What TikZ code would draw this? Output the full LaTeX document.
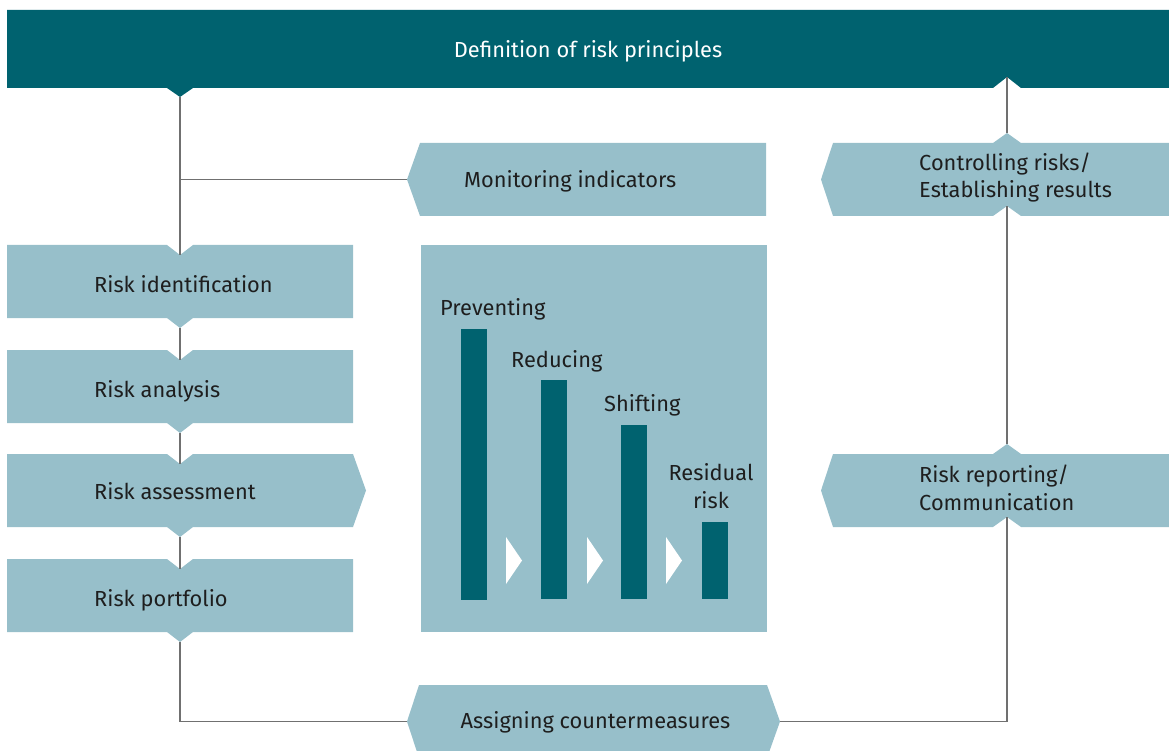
\documentclass[tikz,border=0pt]{standalone}
\usepackage{fontspec}
\setmainfont{Fira Sans}
\definecolor{teal}{HTML}{00626F}
\definecolor{pale}{HTML}{97BFCA}
\definecolor{ink}{HTML}{1E1E1E}
\definecolor{wire}{HTML}{707070}
\tikzset{
  lbl/.style={font=\fontsize{21.8}{27.5}\selectfont, text=ink, inner sep=0pt, align=left},
  link/.style={draw=wire, line width=1.3pt},
  panel/.style={fill=pale},
  bar/.style={fill=teal},
}
% stage box on the left: notch at the top, tab at the bottom
\newcommand{\stagebox}[2]{%
  \fill[panel] (7,#1) -- (167,#1) -- (180,#1+10) -- (193,#1) -- (353,#1) -- (353,#2)
    -- (193,#2) -- (180,#2+10) -- (167,#2) -- (7,#2) -- cycle;}
\begin{document}
\begin{tikzpicture}[x=1pt,y=-1pt]
\useasboundingbox (0,0) rectangle (1169,751);

% header band
\fill[bar] (7,10) -- (1169,10) -- (1169,88) -- (1021,88) -- (1007,77) -- (993,88)
  -- (193,88) -- (180,97) -- (167,88) -- (7,88) -- cycle;
\node[lbl, text=white, anchor=base] (principles) at (588,58) {Definition of risk principles};
\coordinate (hdrOut) at (180,97);
\coordinate (hdrIn) at (1007,77);

% left process stages
\stagebox{245}{318}
\stagebox{350}{423}
\stagebox{559}{632}
\fill[panel] (7,454) -- (167,454) -- (180,464) -- (193,454) -- (353,454) -- (366,490.5)
  -- (353,527) -- (193,527) -- (180,537) -- (167,527) -- (7,527) -- cycle;
\node[lbl, anchor=base west] (ident) at (94,292) {Risk identification};
\node[lbl, anchor=base west] (analysis) at (94,397) {Risk analysis};
\node[lbl, anchor=base west] (assess) at (94,499) {Risk assessment};
\node[lbl, anchor=base west] (portfolio) at (94,606) {Risk portfolio};
\coordinate (identIn) at (180,255);
\coordinate (identOut) at (180,328);
\coordinate (analysisIn) at (180,360);
\coordinate (analysisOut) at (180,433);
\coordinate (assessIn) at (180,464);
\coordinate (assessOut) at (180,537);
\coordinate (portfolioIn) at (180,569);
\coordinate (portfolioOut) at (180,642);

% monitoring indicators
\fill[panel] (420,143) -- (766,143) -- (766,216) -- (420,216) -- (407,179.5) -- cycle;
\node[lbl, anchor=base west] (monitor) at (464,188) {Monitoring indicators};
\coordinate (monitorIn) at (407,179.5);
\coordinate (branch) at (180,179.5);

% controlling risks
\fill[panel] (833,143) -- (993,143) -- (1007,133) -- (1021,143) -- (1169,143) -- (1169,216)
  -- (1021,216) -- (1007,206) -- (993,216) -- (833,216) -- (821,179.5) -- cycle;
\node[lbl, anchor=base west] (control) at (919,198) {Controlling risks/\\Establishing results};
\coordinate (controlOut) at (1007,133);
\coordinate (controlIn) at (1007,206);

% risk reporting
\fill[panel] (833,454) -- (993,454) -- (1007,444) -- (1021,454) -- (1169,454) -- (1169,527)
  -- (1021,527) -- (1007,517) -- (993,527) -- (833,527) -- (821,490.5) -- cycle;
\node[lbl, anchor=base west] (report) at (919,510) {Risk reporting/\\Communication};
\coordinate (reportOut) at (1007,444);
\coordinate (reportIn) at (1007,517);

% countermeasures
\fill[panel] (419,685) -- (767,685) -- (780,721.5) -- (767,758) -- (419,758) -- (407,721.5) -- cycle;
\node[lbl, anchor=base] (counter) at (595.5,728) {Assigning countermeasures};
\coordinate (counterIn) at (407,721.5);
\coordinate (counterOut) at (780,721.5);

% treatment options panel
\fill[panel] (421,245) rectangle (767,632);
\fill[bar] (461,329) rectangle (487,600);
\fill[bar] (541,380) rectangle (567,599);
\fill[bar] (621,425) rectangle (647,599);
\fill[bar] (702,522) rectangle (728,599);
\foreach \ax in {506,587,666}
  \fill[white] (\ax,537) -- (\ax+16,560.5) -- (\ax,584) -- cycle;
\node[lbl, anchor=base west] (prevent) at (440,315) {Preventing};
\node[lbl, anchor=base west] (reduce) at (511,367) {Reducing};
\node[lbl, anchor=base west] (shift) at (604,411) {Shifting};
\node[lbl, anchor=base, align=center] (residual) at (711,508) {Residual\\risk};

% connectors
\draw[link] (hdrOut) -- (identIn);
\draw[link] (branch) -- (monitorIn);
\draw[link] (identOut) -- (analysisIn);
\draw[link] (analysisOut) -- (assessIn);
\draw[link] (assessOut) -- (portfolioIn);
\draw[link] (portfolioOut) |- (counterIn);
\draw[link] (counterOut) -| (reportIn);
\draw[link] (reportOut) -- (controlIn);
\draw[link] (controlOut) -- (hdrIn);
\end{tikzpicture}
\end{document}
